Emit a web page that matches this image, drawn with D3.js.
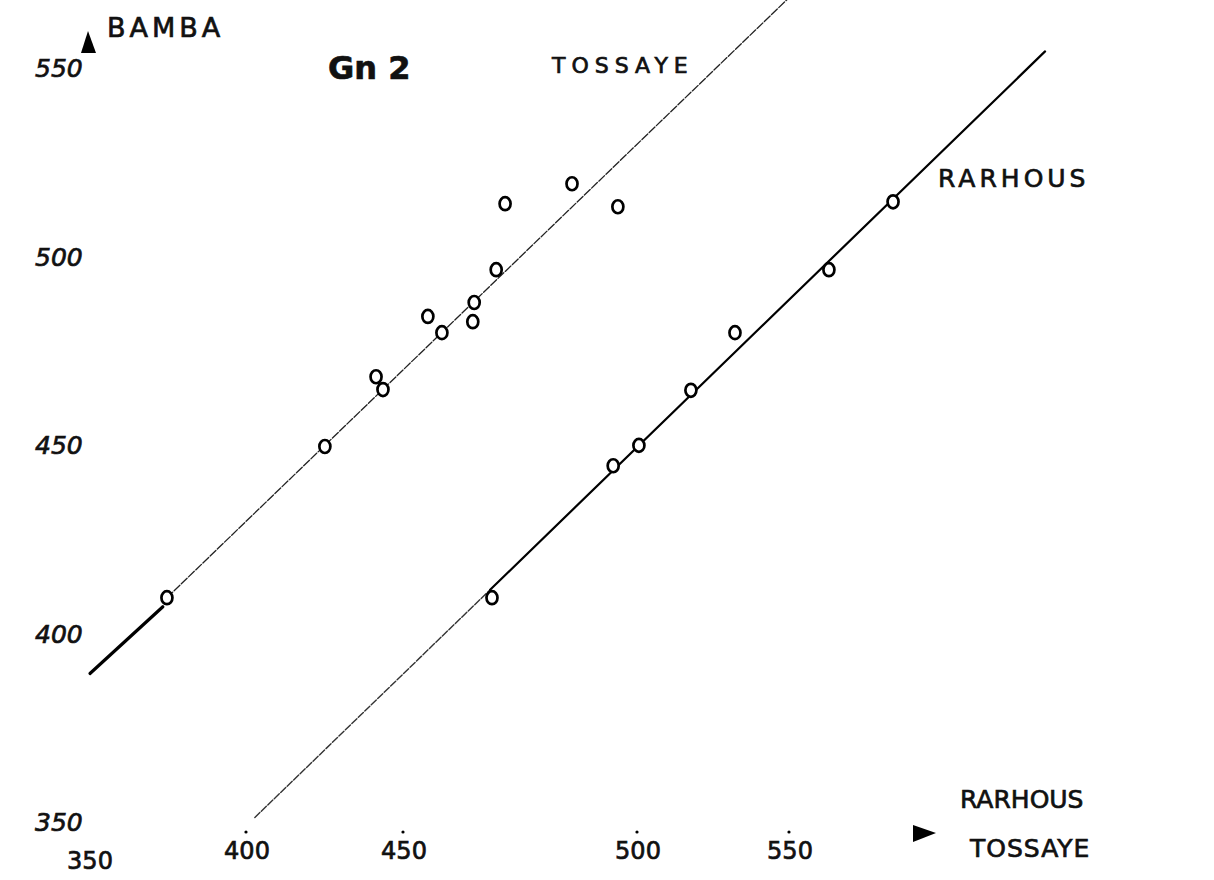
<!DOCTYPE html>
<html>
<head>
<meta charset="utf-8">
<script src="https://cdn.jsdelivr.net/npm/d3@7"></script>
<style>
  html, body { margin: 0; padding: 0; background: #fff; }
  svg { display: block; }
  text { fill: #111; stroke: #111; stroke-width: 0.7px; font-family: "DejaVu Sans", sans-serif; }
  .tick { font-size: 25px; font-style: italic; }
  .xtick { font-size: 24px; }
</style>
</head>
<body>
<svg id="canvas" width="1214" height="880"></svg>
<script>
(function () {
  const svg = d3.select("#canvas");

  // ---------- data ----------
  // upper group (TOSSAYE line): x = RARHOUS/TOSSAYE, y = BAMBA
  const tossayeX = [374.5, 424.8, 443.3, 441.1, 458.1, 455.1, 465.0, 464.7, 469.7, 471.6, 485.9, 495.7];
  const tossayeY = [409.5, 449.6, 464.7, 468.1, 479.8, 484.1, 487.8, 482.7, 496.5, 514.0, 519.3, 513.2];

  // lower group (RARHOUS line)
  const rarhousX = [468.8, 494.7, 500.3, 517.4, 531.9, 562.8, 583.9];
  const rarhousY = [409.5, 444.5, 449.9, 464.5, 479.8, 496.5, 514.5];

  // hand-drawn fit lines, as [x, y] end points
  const tossayeThick = [[350.0, 389.4], [373.2, 407.1]];
  const tossayeLine  = [[374.5, 409.5], [550.0, 568.9]];
  const rarhousLow   = [[402.5, 351.2], [468.4, 411.6]];
  const rarhousHigh  = [[468.4, 411.6], [633.9, 554.4]];

  const xTicks = [350, 400, 450, 500, 550];
  const yTicks = [550, 500, 450, 400, 350];

  // ---------- scales (x axis was hand-spaced unevenly) ----------
  const x = d3.scaleLinear().domain(xTicks).range([90, 247, 404, 638, 790]);
  const y = d3.scaleLinear().domain([350, 550]).range([822, 68]);

  const line = d3.line().x(d => x(d[0])).y(d => y(d[1]));

  // ---------- lines ----------
  const lg = svg.append("g").attr("fill", "none").attr("stroke-linecap", "round");
  lg.append("path").attr("d", line(tossayeThick))
    .attr("stroke", "#000").attr("stroke-width", 3.2);
  lg.append("path").attr("d", line(tossayeLine))
    .attr("stroke", "#222").attr("stroke-width", 1.3).attr("stroke-dasharray", "8 2");
  lg.append("path").attr("d", line(rarhousLow))
    .attr("stroke", "#333").attr("stroke-width", 1.4).attr("stroke-dasharray", "7 2");
  lg.append("path").attr("d", line(rarhousHigh))
    .attr("stroke", "#000").attr("stroke-width", 2.2);

  // ---------- points ----------
  function drawPoints(xs, ys) {
    svg.append("g").selectAll("ellipse")
      .data(xs.map((v, i) => [v, ys[i]]))
      .join("ellipse")
      .attr("cx", d => x(d[0]))
      .attr("cy", d => y(d[1]))
      .attr("rx", 5.5).attr("ry", 6.5)
      .attr("fill", "#fff")
      .attr("stroke", "#000")
      .attr("stroke-width", 2.7);
  }
  drawPoints(tossayeX, tossayeY);
  drawPoints(rarhousX, rarhousY);

  // ---------- axes labels ----------
  svg.append("g").selectAll("text")
    .data(yTicks).join("text")
    .attr("class", "tick")
    .attr("x", 35)
    .attr("y", d => y(d))
    .attr("dy", "0.36em")
    .text(d => d);

  svg.append("g").selectAll("text")
    .data(xTicks).join("text")
    .attr("class", "xtick")
    .attr("x", d => x(d))
    .attr("y", d => d === 350 ? 869 : 859)
    .attr("text-anchor", "middle")
    .text(d => d);

  // small tick dots over the x labels
  svg.append("g").selectAll("circle")
    .data(xTicks.slice(1)).join("circle")
    .attr("cx", d => x(d) - 1)
    .attr("cy", 832)
    .attr("r", 1.6)
    .attr("fill", "#000");

  // axis arrows
  svg.append("path").attr("d", "M88,31 L96,53 L81,53 Z").attr("fill", "#000");
  svg.append("path").attr("d", "M913,825 L936,833 L913,842 Z").attr("fill", "#000");

  // ---------- annotations ----------
  svg.append("text").attr("x", 107).attr("y", 37)
    .attr("font-size", 27).attr("letter-spacing", 4).text("BAMBA");
  svg.append("text").attr("x", 328).attr("y", 79)
    .attr("font-size", 32).attr("font-weight", "bold").text("Gn 2");
  svg.append("text").attr("x", 552).attr("y", 73)
    .attr("font-size", 22).attr("letter-spacing", 6).text("TOSSAYE");
  svg.append("text").attr("x", 938).attr("y", 187)
    .attr("font-size", 25).attr("letter-spacing", 4).text("RARHOUS");
  svg.append("text").attr("x", 960).attr("y", 808)
    .attr("font-size", 25).text("RARHOUS");
  svg.append("text").attr("x", 970).attr("y", 857)
    .attr("font-size", 25).attr("letter-spacing", 1).text("TOSSAYE");
})();
</script>
</body>
</html>
